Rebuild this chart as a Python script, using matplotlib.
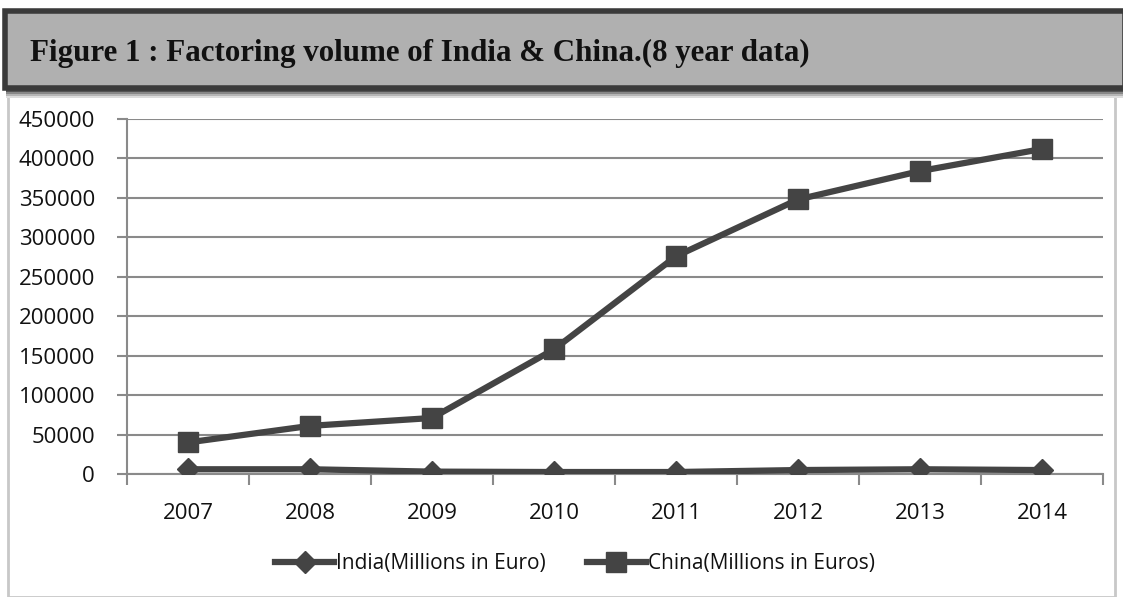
import matplotlib
matplotlib.use("Agg")
import matplotlib.pyplot as plt
from matplotlib.patches import Rectangle
from matplotlib.ticker import MultipleLocator, FixedLocator

years = ["2007", "2008", "2009", "2010", "2011", "2012", "2013", "2014"]
india = [6000, 6000, 3000, 2500, 2500, 5000, 6000, 5000]
china = [40000, 61000, 71000, 158000, 276000, 348000, 384000, 412000]
title = "Figure 1 : Factoring volume of India & China.(8 year data)"
india_label = "India(Millions in Euro)"
china_label = "China(Millions in Euros)"

W, H = 1123, 597
fig = plt.figure(figsize=(W / 100, H / 100), dpi=100)
fig.patch.set_facecolor("white")

def fx(px):
    return px / W

def fy(py):
    return 1 - py / H

# chart panel border
fig.patches.append(Rectangle((fx(8), fy(597)), fx(1107), fy(92) - fy(597),
                             transform=fig.transFigure, facecolor="white", edgecolor="#c8c8c8", lw=2, zorder=0))
# title bar shadow
for i, c in enumerate(["#555555", "#888888", "#b5b5b5", "#dddddd"]):
    fig.patches.append(Rectangle((fx(6), fy(92 + i * 2)), fx(1117), fy(88) - fy(90),
                                 transform=fig.transFigure, facecolor=c, edgecolor="none", zorder=1))
# title bar
fig.patches.append(Rectangle((fx(5), fy(88)), fx(1120), fy(11) - fy(88),
                             transform=fig.transFigure, facecolor="#b0b0b0", edgecolor="#3a3a3a", lw=4, zorder=2))
fig.text(fx(30), fy(53), title, fontsize=22.3, fontweight="bold", family="Liberation Serif",
         ha="left", va="center", color="#111111", zorder=3)

ax = fig.add_axes([fx(127), fy(474), fx(1103 - 127), fy(119) - fy(474)])
ax.set_zorder(5)
ax.patch.set_alpha(0)
x = list(range(len(years)))
line_c = "#444444"
ax.plot(x, india, color=line_c, lw=4.5, marker="D", markersize=11, label=india_label, zorder=3)
ax.plot(x, china, color=line_c, lw=4.5, marker="s", markersize=15, label=china_label, zorder=3)

ax.set_xlim(-0.5, len(years) - 0.5)
ax.set_ylim(0, 450000)
ax.yaxis.set_major_locator(MultipleLocator(50000))
ax.grid(axis="y", color="#8a8a8a", lw=1.5)
ax.set_axisbelow(True)
for s in ["top", "right"]:
    ax.spines[s].set_visible(False)
ax.spines["left"].set_color("#8a8a8a")
ax.spines["bottom"].set_color("#8a8a8a")
ax.spines["left"].set_linewidth(1.5)
ax.spines["bottom"].set_linewidth(1.5)

ax.set_xticks(x)
ax.set_xticklabels(years)
ax.xaxis.set_minor_locator(FixedLocator([i - 0.5 for i in range(len(years) + 1)]))
ax.tick_params(axis="x", which="major", length=0, pad=21, labelsize=16, labelcolor="#111111")
ax.tick_params(axis="x", which="minor", length=8, width=1.5, color="#8a8a8a")
ax.tick_params(axis="y", length=7, width=1.5, color="#8a8a8a", labelsize=16, labelcolor="#111111", pad=16)
for lab in ax.get_xticklabels() + ax.get_yticklabels():
    lab.set_family("Open Sans")

leg = fig.legend(loc="center", bbox_to_anchor=(fx(575), fy(564)), ncol=2, frameon=False,
                 prop={"family": "Open Sans", "size": 15}, handlelength=2.8, columnspacing=2.0,
                 handletextpad=0.1)
leg.set_zorder(6)
for t in leg.get_texts():
    t.set_color("#111111")

fig.savefig("out.png", dpi=100, facecolor="white")
